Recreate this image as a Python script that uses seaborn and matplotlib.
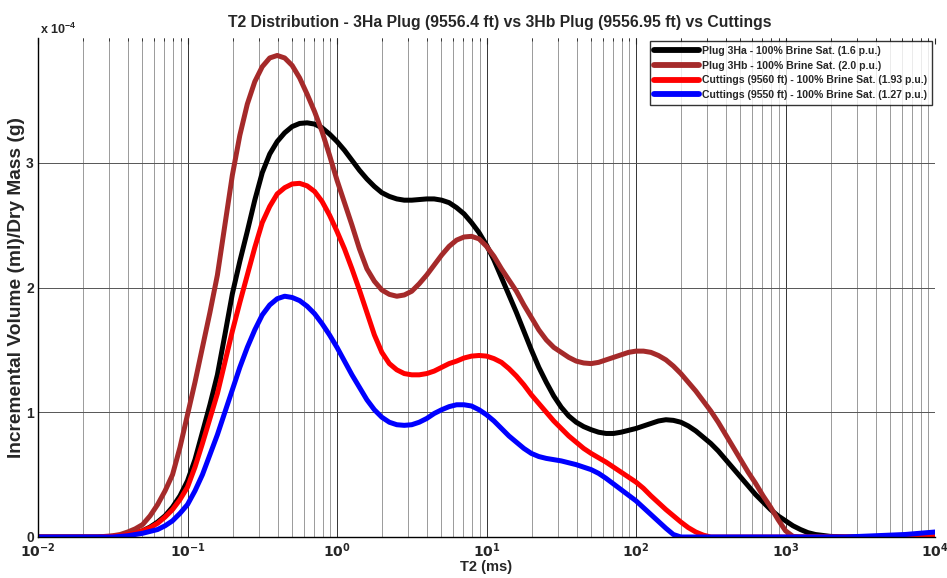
import numpy as np
import pandas as pd
import matplotlib
matplotlib.use("Agg")
import matplotlib.pyplot as plt
import matplotlib.ticker as mticker
import seaborn as sns

# ---- data (values in units of 1e-4 ml/g), read at log10(T2) positions ----
t2_log10 = [-2.0, -1.9, -1.8, -1.7, -1.6,
            -1.5, -1.45, -1.4, -1.35, -1.3, -1.25, -1.2, -1.15, -1.1, -1.05,
            -1.0, -0.95, -0.9, -0.85, -0.8, -0.75, -0.7, -0.65, -0.6, -0.55,
            -0.5, -0.45, -0.4, -0.35, -0.3, -0.25, -0.2, -0.15, -0.1, -0.05,
            0.0, 0.05, 0.1, 0.15, 0.2, 0.25, 0.3, 0.35, 0.4, 0.45,
            0.5, 0.55, 0.6, 0.65, 0.7, 0.75, 0.8, 0.85, 0.9, 0.95,
            1.0, 1.05, 1.1, 1.15, 1.2, 1.25, 1.3, 1.35, 1.4, 1.45,
            1.5, 1.55, 1.6, 1.65, 1.7, 1.75, 1.8, 1.85, 1.9, 1.95,
            2.0, 2.05, 2.1, 2.15, 2.2, 2.25, 2.3, 2.35, 2.4, 2.45,
            2.5, 2.55, 2.6, 2.65, 2.7, 2.75, 2.8, 2.85, 2.9, 2.95,
            3.0, 3.05, 3.1, 3.15, 3.2,
            3.3, 3.4, 3.5, 3.6, 3.7, 3.8, 3.9, 4.0]

plug_3ha = [0, 0, 0, 0, 0,
            0.005, 0.01, 0.02, 0.03, 0.05, 0.08, 0.12, 0.17, 0.24, 0.33,
            0.45, 0.62, 0.84, 1.06, 1.30, 1.62, 1.95, 2.21, 2.45, 2.70,
            2.92, 3.07, 3.17, 3.24, 3.29, 3.315, 3.32, 3.31, 3.28, 3.23,
            3.17, 3.10, 3.02, 2.94, 2.87, 2.81, 2.76, 2.73, 2.71, 2.70,
            2.70, 2.705, 2.71, 2.71, 2.70, 2.68, 2.64, 2.59, 2.52, 2.44,
            2.34, 2.22, 2.08, 1.94, 1.80, 1.65, 1.50, 1.36, 1.24, 1.13,
            1.04, 0.97, 0.92, 0.885, 0.86, 0.84, 0.83, 0.83, 0.84, 0.855,
            0.87, 0.89, 0.91, 0.93, 0.94, 0.935, 0.92, 0.89, 0.85, 0.80,
            0.75, 0.69, 0.62, 0.55, 0.48, 0.41, 0.34, 0.28, 0.22, 0.17,
            0.13, 0.09, 0.06, 0.035, 0.02,
            0.005, 0, 0, 0, 0, 0, 0, 0]

plug_3hb = [0, 0, 0, 0, 0,
            0.01, 0.02, 0.04, 0.065, 0.10, 0.17, 0.26, 0.37, 0.50, 0.72,
            0.98, 1.24, 1.52, 1.80, 2.10, 2.50, 2.90, 3.22, 3.47, 3.65,
            3.77, 3.84, 3.86, 3.84, 3.78, 3.68, 3.55, 3.41, 3.25, 3.06,
            2.86, 2.68, 2.50, 2.31, 2.15, 2.05, 1.98, 1.945, 1.93, 1.94,
            1.97, 2.03, 2.10, 2.18, 2.26, 2.33, 2.38, 2.405, 2.41, 2.39,
            2.33, 2.25, 2.15, 2.06, 1.97, 1.86, 1.76, 1.66, 1.58, 1.52,
            1.48, 1.44, 1.41, 1.395, 1.39, 1.40, 1.42, 1.44, 1.46, 1.48,
            1.49, 1.49, 1.48, 1.455, 1.42, 1.37, 1.31, 1.24, 1.17, 1.09,
            1.01, 0.92, 0.82, 0.72, 0.62, 0.52, 0.43, 0.33, 0.24, 0.14,
            0.05, 0.005, 0, 0, 0,
            0, 0, 0, 0, 0, 0, 0, 0]

cuttings_9560 = [0, 0, 0, 0, 0,
                 0.005, 0.01, 0.02, 0.03, 0.05, 0.075, 0.11, 0.16, 0.22, 0.30,
                 0.40, 0.56, 0.75, 0.95, 1.15, 1.40, 1.65, 1.88, 2.10, 2.32,
                 2.52, 2.65, 2.75, 2.80, 2.83, 2.835, 2.815, 2.77, 2.69, 2.58,
                 2.45, 2.31, 2.15, 1.98, 1.80, 1.62, 1.48, 1.39, 1.34, 1.31,
                 1.30, 1.30, 1.31, 1.33, 1.36, 1.39, 1.41, 1.435, 1.45, 1.455,
                 1.45, 1.43, 1.40, 1.35, 1.29, 1.22, 1.14, 1.07, 1.00, 0.93,
                 0.87, 0.81, 0.76, 0.71, 0.67, 0.635, 0.60, 0.56, 0.52, 0.48,
                 0.44, 0.39, 0.33, 0.275, 0.22, 0.17, 0.12, 0.075, 0.04, 0.015,
                 0, 0, 0, 0, 0, 0, 0, 0, 0, 0,
                 0, 0, 0, 0, 0,
                 0, 0, 0, 0, 0, 0, 0, 0]

cuttings_9550 = [0, 0, 0, 0, 0,
                 0, 0.005, 0.01, 0.02, 0.03, 0.045, 0.06, 0.09, 0.13, 0.19,
                 0.26, 0.37, 0.50, 0.66, 0.82, 1.00, 1.18, 1.36, 1.52, 1.66,
                 1.78, 1.86, 1.91, 1.93, 1.92, 1.895, 1.85, 1.79, 1.71, 1.62,
                 1.52, 1.41, 1.30, 1.20, 1.10, 1.02, 0.96, 0.92, 0.90, 0.895,
                 0.90, 0.92, 0.95, 0.99, 1.02, 1.045, 1.06, 1.06, 1.05, 1.02,
                 0.98, 0.93, 0.87, 0.81, 0.76, 0.71, 0.67, 0.645, 0.63, 0.62,
                 0.61, 0.595, 0.58, 0.56, 0.54, 0.51, 0.47, 0.425, 0.38, 0.335,
                 0.29, 0.235, 0.18, 0.125, 0.07, 0.02, 0, 0, 0, 0,
                 0, 0, 0, 0, 0, 0, 0, 0, 0, 0,
                 0, 0, 0, 0, 0,
                 0, 0, 0.005, 0.01, 0.015, 0.02, 0.03, 0.04]

series_labels = ["Plug 3Ha - 100% Brine Sat. (1.6 p.u.)",
                 "Plug 3Hb - 100% Brine Sat. (2.0 p.u.)",
                 "Cuttings (9560 ft) - 100% Brine Sat. (1.93 p.u.)",
                 "Cuttings (9550 ft) - 100% Brine Sat. (1.27 p.u.)"]
series_colors = ["#000000", "#A52A2A", "#FF0000", "#0000FF"]
y_ticks = [0, 1, 2, 3]
x_tick_exps = [-2, -1, 0, 1, 2, 3, 4]

# ---- build long-form table ----
t2 = 10.0 ** np.array(t2_log10)
frames = []
for lab, vals in zip(series_labels, [plug_3ha, plug_3hb, cuttings_9560, cuttings_9550]):
    frames.append(pd.DataFrame({"T2": t2, "val": np.array(vals) * 1e-4, "series": lab}))
df = pd.concat(frames, ignore_index=True)

sns.set_style("white")
plt.rcParams["font.family"] = ["Liberation Sans", "DejaVu Sans"]
plt.rcParams["font.weight"] = "bold"
plt.rcParams["mathtext.default"] = "regular"

fig = plt.figure(figsize=(9.47, 5.78), dpi=100)
ax = fig.add_axes([38 / 947, 1 - 537 / 578, (935 - 38) / 947, (537 - 38) / 578])

sns.lineplot(data=df, x="T2", y="val", hue="series", hue_order=series_labels,
             palette=dict(zip(series_labels, series_colors)), linewidth=3.6,
             ax=ax, legend=True, estimator=None, sort=False)
for ln in ax.get_lines():
    ln.set_solid_joinstyle("round")
    ln.set_solid_capstyle("round")

ax.set_xscale("log")
ax.set_xlim(1e-2, 1e4)
ax.set_ylim(0, 4e-4)

# grid: vertical at every major/minor tick, horizontal at y ticks
ax.xaxis.set_major_locator(mticker.LogLocator(base=10, numticks=20))
ax.xaxis.set_minor_locator(mticker.LogLocator(base=10, subs=np.arange(2, 10), numticks=100))
ax.grid(True, which="major", axis="x", color="#333333", linewidth=0.7)
ax.grid(True, which="minor", axis="x", color="#9a9a9a", linewidth=0.7)
ax.grid(True, which="major", axis="y", color="#555555", linewidth=0.7)

ax.set_xticks([10.0 ** e for e in x_tick_exps])
ax.set_xticklabels([r"$\mathbf{10^{%d}}$" % e for e in x_tick_exps])
ax.set_yticks([v * 1e-4 for v in y_ticks])
ax.set_yticklabels([str(v) for v in y_ticks])

ax.tick_params(axis="both", which="both", direction="in", top=True, right=False,
               labelsize=10, pad=3)
ax.tick_params(axis="both", which="major", length=4, width=0.8)
ax.tick_params(axis="x", which="minor", length=2, width=0.6)
for lbl in ax.get_yticklabels():
    lbl.set_fontweight("bold")

for s in ["top", "right"]:
    ax.spines[s].set_visible(False)
for s in ["left", "bottom"]:
    ax.spines[s].set_color("black")
    ax.spines[s].set_linewidth(1.0)

ax.text(0.002, 1.008, r"x 10$^{-4}$", transform=ax.transAxes, fontsize=9,
        fontweight="bold", ha="left", va="baseline")

ax.set_title("T2 Distribution - 3Ha Plug (9556.4 ft) vs 3Hb Plug (9556.95 ft) vs Cuttings",
             fontsize=11.3, fontweight="bold", pad=8, x=0.515)
ax.set_xlabel("T2 (ms)", fontsize=10.5, fontweight="bold", labelpad=0)
ax.set_ylabel("Incremental Volume (ml)/Dry Mass (g)", fontsize=13.8, fontweight="bold")
ax.yaxis.set_label_coords(-0.015, 0.5)

leg = ax.legend(loc="upper right", fontsize=7.6, frameon=True, fancybox=False,
                borderpad=0.45, labelspacing=0.45, handlelength=4.2, handletextpad=0.3,
                borderaxespad=0.3)
leg.get_frame().set_edgecolor("black")
leg.get_frame().set_linewidth(1.0)
for t in leg.get_texts():
    t.set_fontweight("bold")
for h in leg.get_lines():
    h.set_linewidth(4.2)

fig.savefig("out.png", dpi=100)
